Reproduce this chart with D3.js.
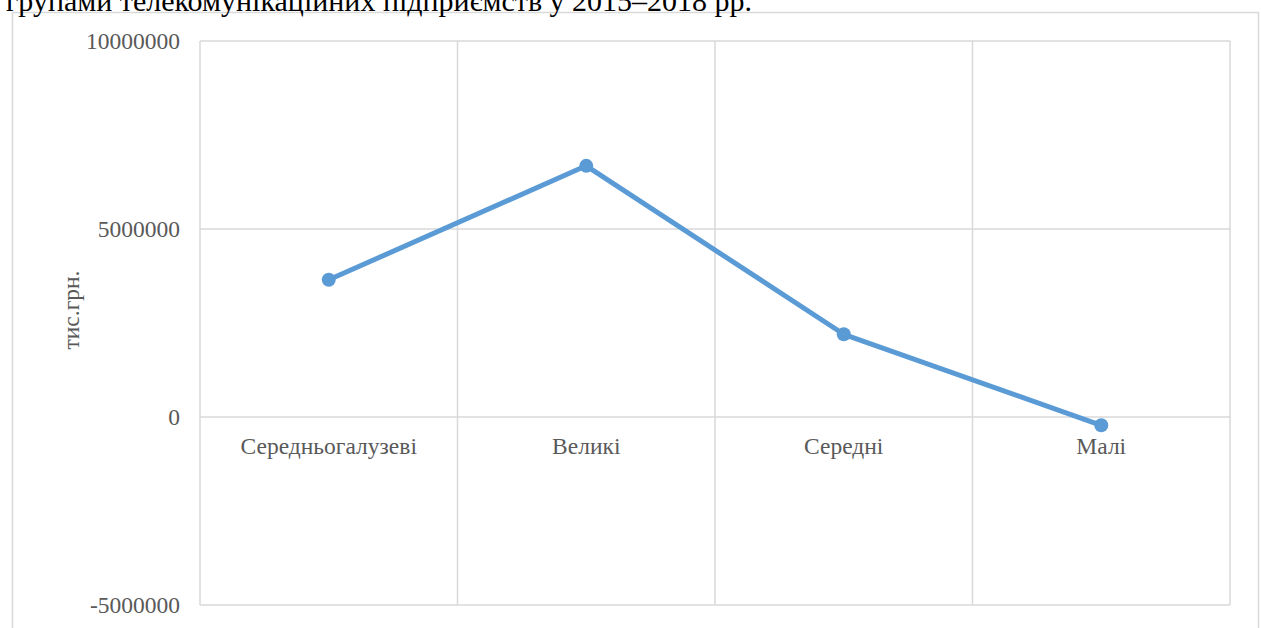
<html>
<head>
<meta charset="utf-8">
<script src="https://d3js.org/d3.v7.min.js"></script>
<style>
    body {margin: 0; background: #fff;}
    text {font-family: "Liberation Serif", "Times New Roman", serif;}
</style>
</head>
<body>
<svg width="1261" height="628"></svg>
<script>
const categories = ["Середньогалузеві", "Великі", "Середні", "Малі"];
const values = [3650000, 6680000, 2200000, -220000];
const yTicks = [-5000000, 0, 5000000, 10000000];
const title = "групами телекомунікаційних підприємств у 2015–2018 рр.";
const yLabel = "тис.грн.";

const svg = d3.select("svg");

// chart frame
svg.append("rect")
    .attr("x", 12.5).attr("y", 12.5)
    .attr("width", 1246).attr("height", 640)
    .attr("fill", "none").attr("stroke", "#d9d9d9").attr("stroke-width", 1.5);

// document text above the chart, clipped at the top
svg.append("text")
    .attr("x", 6).attr("y", 11)
    .style("font-size", "30px").style("fill", "#000")
    .text(title);

const xs = d3.scaleBand().domain(categories).range([200, 1230]);
const ys = d3.scaleLinear().domain([-5000000, 10000000]).range([605, 41]);

// horizontal gridlines
svg.append("g")
    .selectAll("line")
    .data(yTicks)
    .enter()
    .append("line")
    .attr("x1", 200).attr("x2", 1230)
    .attr("y1", d => ys(d)).attr("y2", d => ys(d))
    .attr("stroke", "#d9d9d9").attr("stroke-width", 1.5);

// vertical gridlines at category borders
const borders = categories.map(c => xs(c)).concat([xs.range()[1]]);
svg.append("g")
    .selectAll("line")
    .data(borders)
    .enter()
    .append("line")
    .attr("x1", d => d).attr("x2", d => d)
    .attr("y1", ys(10000000)).attr("y2", ys(-5000000))
    .attr("stroke", "#d9d9d9").attr("stroke-width", 1.5);

// y tick labels
svg.append("g")
    .selectAll("text")
    .data(yTicks)
    .enter()
    .append("text")
    .attr("x", 180)
    .attr("y", d => ys(d) + 8)
    .attr("text-anchor", "end")
    .style("font-size", "23.5px").style("fill", "#595959")
    .text(d => String(d));

// category labels
svg.append("g")
    .selectAll("text")
    .data(categories)
    .enter()
    .append("text")
    .attr("x", d => xs(d) + xs.bandwidth() / 2)
    .attr("y", ys(0) + 37)
    .attr("text-anchor", "middle")
    .style("font-size", "23.5px").style("fill", "#595959")
    .text(d => d);

// y axis title
svg.append("text")
    .attr("transform", "translate(79,310) rotate(-90)")
    .attr("text-anchor", "middle")
    .style("font-size", "23.5px").style("fill", "#595959")
    .text(yLabel);

const pts = categories.map((c, i) => [xs(c) + xs.bandwidth() / 2, ys(values[i])]);

svg.append("path")
    .datum(pts)
    .attr("d", d3.line())
    .attr("fill", "none")
    .attr("stroke", "#5b9bd5")
    .attr("stroke-width", 5)
    .attr("stroke-linejoin", "round");

svg.append("g")
    .selectAll("circle")
    .data(pts)
    .enter()
    .append("circle")
    .attr("cx", d => d[0]).attr("cy", d => d[1])
    .attr("r", 7)
    .attr("fill", "#5b9bd5");
</script>
</body>
</html>
